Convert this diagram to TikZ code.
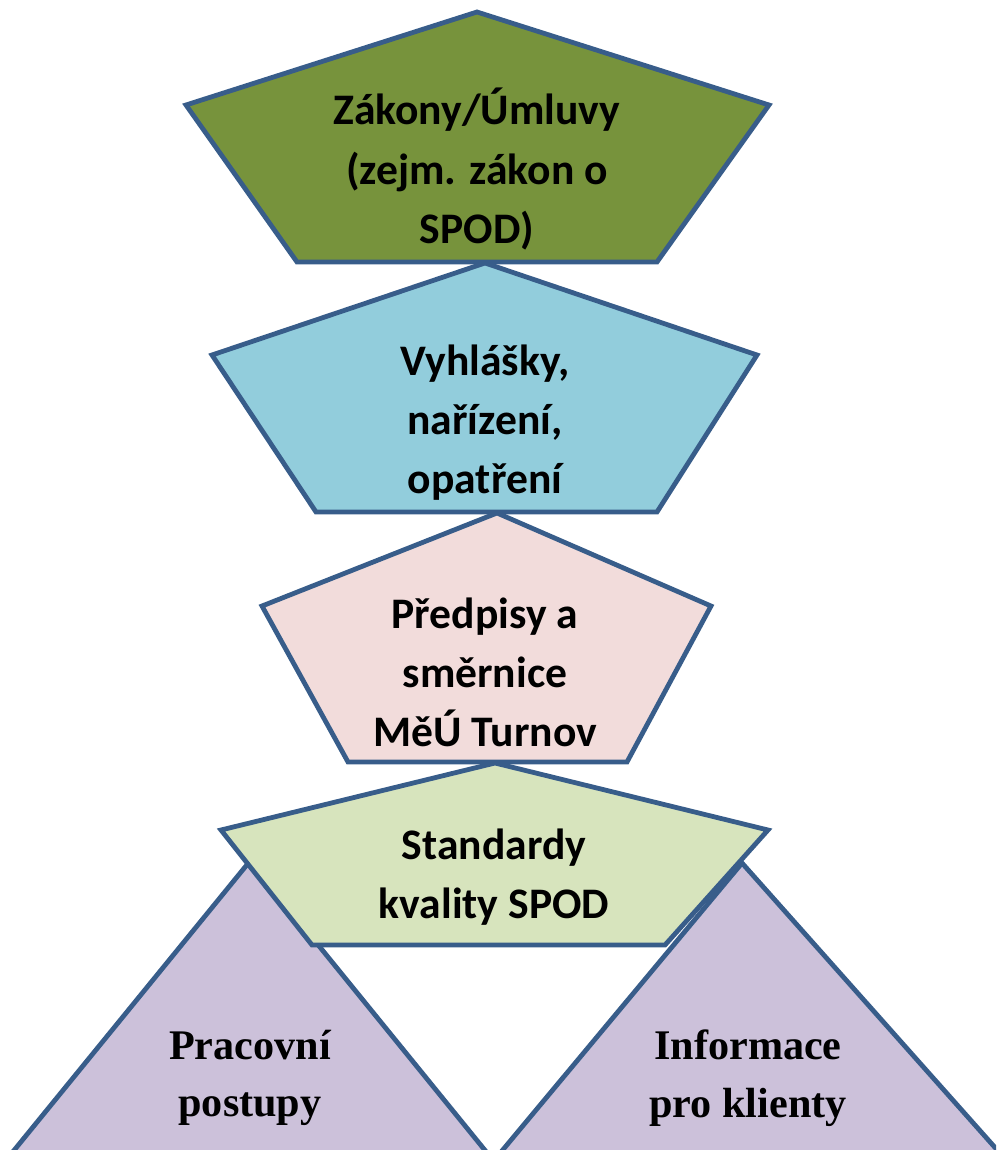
\documentclass[tikz,border=0pt]{standalone}
\usepackage{fontspec}
\setmainfont{Carlito}
\newfontfamily\timesfont{Liberation Serif}
\definecolor{rim}{RGB}{56,93,138}
\definecolor{zakon}{RGB}{119,147,60}
\definecolor{vyhl}{RGB}{146,205,220}
\definecolor{predp}{RGB}{242,220,219}
\definecolor{stand}{RGB}{215,228,189}
\definecolor{postup}{RGB}{204,193,218}
\tikzset{
  shape line/.style={draw=rim,line width=3.4pt,line join=miter},
  label text/.style={align=center,font=\fontsize{31}{42}\selectfont\bfseries},
  tri text/.style={align=center,font=\timesfont\fontsize{30}{41}\selectfont\bfseries}
}
\begin{document}
\begin{tikzpicture}[x=0.025cm,y=-0.025cm]
\useasboundingbox (0,0) rectangle (996,1150);
\clip (0,0) rectangle (996,1150);

% triangles (behind), bases run off the page
\coordinate (LT) at (250,861);
\coordinate (LL) at (-2,1170);
\coordinate (LR) at (501,1170);
\coordinate (RT) at (742,863);
\coordinate (RL) at (486,1170);
\coordinate (RR) at (1015,1170);
\draw[shape line,fill=postup] (LT) -- (LL) -- (LR) -- cycle;
\draw[shape line,fill=postup] (RT) -- (RL) -- (RR) -- cycle;

% pentagons, top to bottom
\coordinate (A1) at (477,12);  \coordinate (B1) at (186,105); \coordinate (C1) at (297,262);
\coordinate (D1) at (657,262); \coordinate (E1) at (769,105);
\coordinate (A2) at (485,263); \coordinate (B2) at (212,355); \coordinate (C2) at (316,512);
\coordinate (D2) at (657,512); \coordinate (E2) at (757,355);
\coordinate (A3) at (497,513); \coordinate (B3) at (262,606); \coordinate (C3) at (348,762);
\coordinate (D3) at (627,762); \coordinate (E3) at (711,606);
\coordinate (A4) at (495,763); \coordinate (B4) at (221,830); \coordinate (C4) at (312,945);
\coordinate (D4) at (665,945); \coordinate (E4) at (768,830);

\draw[shape line,fill=zakon] (A1) -- (B1) -- (C1) -- (D1) -- (E1) -- cycle;
\draw[shape line,fill=vyhl] (A2) -- (B2) -- (C2) -- (D2) -- (E2) -- cycle;
\draw[shape line,fill=predp] (A3) -- (B3) -- (C3) -- (D3) -- (E3) -- cycle;
\draw[shape line,fill=stand] (A4) -- (B4) -- (C4) -- (D4) -- (E4) -- cycle;

\node[label text] (zakony) at (477,169) {Zákony/Úmluvy\\(zejm. zákon o\\SPOD)};
\node[label text] (vyhlasky) at (485,423) {Vyhlášky,\\nařízení,\\opatření};
\node[label text] (predpisy) at (485,672) {Předpisy a\\směrnice\\MěÚ Turnov};
\node[label text] (standardy) at (494,877) {Standardy\\kvality SPOD};
\node[tri text] (postupy) at (250,1078) {Pracovní\\postupy};
\node[tri text] (informace) at (748,1078) {Informace\\pro klienty};
\end{tikzpicture}
\end{document}
